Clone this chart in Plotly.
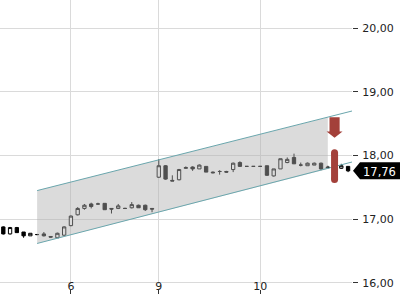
import plotly.graph_objects as go

# ---- data ----
idx = list(range(52))
opens = [16.88, 16.77, 16.87, 16.80, 16.74, 16.76, 16.77, 16.73, 16.71, 16.75,
         16.90, 17.07, 17.17, 17.24, 17.24, 17.25, 17.17, 17.17, 17.17, 17.18,
         17.22, 17.22, 17.17, 17.66, 17.84, 17.61, 17.62, 17.80, 17.82, 17.79,
         17.83, 17.74, 17.75, 17.75, 17.78, 17.89, 17.83, 17.83, 17.83, 17.84,
         17.68, 17.79, 17.89, 17.97, 17.85, 17.84, 17.85, 17.88, 17.82, 17.86,
         17.80, 17.83]
highs = [16.89, 16.88, 16.88, 16.80, 16.78, 16.77, 16.80, 16.73, 16.79, 16.89,
         17.06, 17.19, 17.24, 17.26, 17.26, 17.25, 17.17, 17.24, 17.18, 17.27,
         17.23, 17.23, 17.17, 17.94, 17.85, 17.69, 17.79, 17.83, 17.83, 17.86,
         17.83, 17.75, 17.77, 17.76, 17.89, 17.91, 17.83, 17.83, 17.83, 17.84,
         17.79, 17.95, 17.97, 18.03, 17.89, 17.89, 17.89, 17.89, 17.84, 17.90,
         17.87, 17.83]
lows = [16.76, 16.76, 16.79, 16.71, 16.74, 16.75, 16.73, 16.71, 16.71, 16.74,
        16.89, 17.06, 17.15, 17.17, 17.23, 17.15, 17.09, 17.16, 17.16, 17.17,
        17.18, 17.13, 17.11, 17.65, 17.62, 17.60, 17.61, 17.79, 17.76, 17.79,
        17.74, 17.72, 17.70, 17.73, 17.74, 17.82, 17.83, 17.83, 17.83, 17.68,
        17.67, 17.79, 17.88, 17.87, 17.83, 17.84, 17.85, 17.77, 17.80, 17.79,
        17.79, 17.74]
closes = [16.77, 16.87, 16.79, 16.74, 16.78, 16.76, 16.74, 16.72, 16.78, 16.88,
          17.05, 17.17, 17.22, 17.20, 17.24, 17.15, 17.16, 17.21, 17.17, 17.23,
          17.18, 17.15, 17.16, 17.84, 17.63, 17.60, 17.78, 17.81, 17.79, 17.85,
          17.74, 17.73, 17.75, 17.74, 17.88, 17.83, 17.83, 17.83, 17.83, 17.69,
          17.79, 17.95, 17.94, 17.87, 17.85, 17.88, 17.88, 17.79, 17.81, 17.81,
          17.84, 17.76]

x_tick_idx = [10, 23, 38]
x_tick_text = ["6", "9", "10"]
y_ticks = [16, 17, 18, 19, 20]

# trend channel (two end points each)
chan_x = [5, 52]
chan_upper = [17.45, 18.71]
chan_lower = [16.62, 17.91]
fill_x = [5, 48]
fill_upper = [17.45, 18.60]
fill_lower = [16.62, 17.79]

# signal marker
signal_idx = 49
arrow_top = 18.60
arrow_tip = 18.28
pill_top = 18.045
pill_bottom = 17.625

last_price = closes[-1]
x_range = [-0.49, 51.58]
y_range = [15.984, 20.441]

RED = "#a3403a"
FONT = "DejaVu Sans"

fig = go.Figure()

# channel fill
fig.add_trace(go.Scatter(
    x=[fill_x[0], fill_x[1], fill_x[1], fill_x[0]],
    y=[fill_upper[0], fill_upper[1], fill_lower[1], fill_lower[0]],
    fill="toself", fillcolor="rgba(175,175,175,0.45)", line=dict(width=0),
    mode="lines", hoverinfo="skip", showlegend=False))
# channel lines
for yy in (chan_upper, chan_lower):
    fig.add_trace(go.Scatter(x=chan_x, y=yy, mode="lines",
                             line=dict(color="#6aa6ad", width=1),
                             hoverinfo="skip", showlegend=False))
# signal pill
fig.add_trace(go.Scatter(x=[signal_idx, signal_idx], y=[pill_top, pill_bottom],
                         mode="lines+markers",
                         line=dict(color=RED, width=7),
                         marker=dict(color=RED, size=7, line=dict(width=0)),
                         hoverinfo="skip", showlegend=False))

fig.add_trace(go.Candlestick(
    x=idx, open=opens, high=highs, low=lows, close=closes,
    increasing=dict(line=dict(color="black", width=1), fillcolor="white"),
    decreasing=dict(line=dict(color="black", width=1), fillcolor="black"),
    whiskerwidth=0, hoverinfo="skip", showlegend=False))

# helper trace for second x axis (tick marks at the bottom)
fig.add_trace(go.Scatter(x=idx, y=[None] * len(idx), xaxis="x2", yaxis="y",
                         mode="lines", hoverinfo="skip", showlegend=False))

# down arrow
hs, hh = 0.75, 1.18
shaft_bottom = arrow_tip + (arrow_top - arrow_tip) * 0.3
fig.add_shape(type="path", xref="x", yref="y", layer="above",
              path=(f"M {signal_idx-hs} {arrow_top} L {signal_idx+hs} {arrow_top} "
                    f"L {signal_idx+hs} {shaft_bottom} L {signal_idx+hh} {shaft_bottom} "
                    f"L {signal_idx} {arrow_tip} L {signal_idx-hh} {shaft_bottom} "
                    f"L {signal_idx-hs} {shaft_bottom} Z"),
              fillcolor=RED, line=dict(width=0))

# price label
fig.add_shape(type="path", xref="paper", yref="y",
              xsizemode="pixel", ysizemode="pixel", xanchor=1, yanchor=last_price,
              path="M 1 0 L 8 -8.5 L 48 -8.5 L 48 8.5 L 8 8.5 Z",
              fillcolor="black", line=dict(width=0), layer="above")
fig.add_annotation(x=1, xref="paper", y=last_price, yref="y",
                   text=f"{last_price:.2f}".replace(".", ","),
                   showarrow=False, xanchor="left", xshift=9, yshift=-1,
                   font=dict(family=FONT, size=11.5, color="white"))

fig.update_layout(
    width=400, height=300,
    margin=dict(l=0, r=48, t=0, b=3),
    paper_bgcolor="white", plot_bgcolor="white",
    separators=",.",
    showlegend=False,
    xaxis=dict(range=x_range, tickvals=x_tick_idx, ticktext=x_tick_text,
               showgrid=True, gridcolor="#dadada", gridwidth=1,
               ticks="", showline=False, zeroline=False,
               ticklabelstandoff=-6,
               rangeslider=dict(visible=False),
               tickfont=dict(family=FONT, size=11, color="#222")),
    xaxis2=dict(range=x_range, tickvals=x_tick_idx, overlaying="x",
                anchor="free", position=0, showticklabels=False,
                ticks="inside", ticklen=4, tickcolor="#333", tickwidth=1,
                showgrid=False, showline=False, zeroline=False),
    yaxis=dict(range=y_range, domain=[0.034, 1], side="right",
               tickvals=y_ticks, tickformat=".2f",
               showgrid=True, gridcolor="#dadada", gridwidth=1,
               ticks="outside", ticklen=5, tickcolor="#333",
               ticklabelstandoff=2,
               showline=False, zeroline=False,
               tickfont=dict(family=FONT, size=11, color="#222")),
)

fig.write_html("out.html")
